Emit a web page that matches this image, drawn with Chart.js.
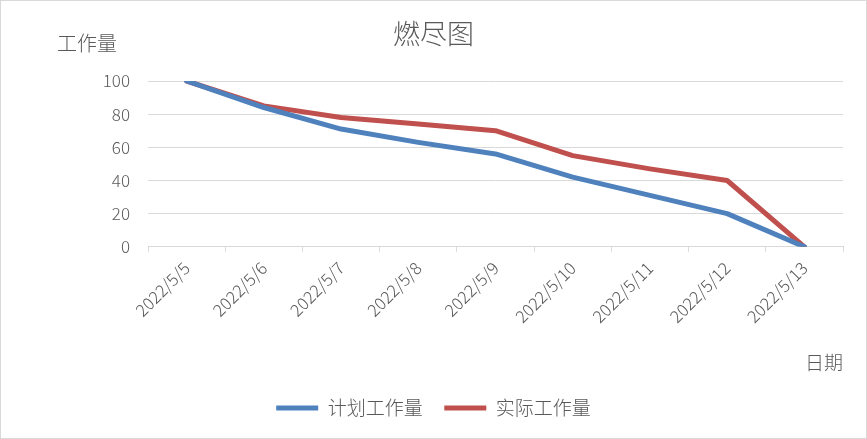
<!DOCTYPE html>
<html>
<head>
<meta charset="utf-8">
<script src="https://cdn.jsdelivr.net/npm/chart.js@4/dist/chart.umd.min.js"></script>
<style>
html,body{margin:0;padding:0;background:#fff;overflow:hidden;}
canvas{display:block;}
</style>
</head>
<body>
<canvas id="c" width="867" height="439"></canvas>
<script>
const categories = ['2022/5/5','2022/5/6','2022/5/7','2022/5/8','2022/5/9','2022/5/10','2022/5/11','2022/5/12','2022/5/13'];
const plannedWork = [100, 84, 71, 63, 56, 42, 31, 20, 0];
const actualWork  = [100, 85, 78, 74, 70, 55, 47, 40, 0];
const seriesNames = ['计划工作量', '实际工作量'];
const chartTitle = '燃尽图';
const yAxisTitle = '工作量';
const xAxisTitle = '日期';
const yTicks = [0, 20, 40, 60, 80, 100];

const FONT = "'Noto Sans CJK SC', 'Noto Sans', sans-serif";
const TEXT = '#595959';
const GRID = '#d9d9d9';

const frameAndLabels = {
  id: 'frameAndLabels',
  beforeDraw(chart) {
    const ctx = chart.ctx;
    ctx.save();
    ctx.fillStyle = '#fff';
    ctx.fillRect(0, 0, chart.width, chart.height);
    ctx.restore();
  },
  afterDraw(chart) {
    const ctx = chart.ctx;
    ctx.save();
    ctx.strokeStyle = GRID;
    ctx.lineWidth = 1;
    ctx.strokeRect(0.5, 0.5, chart.width - 1, chart.height - 1);
    ctx.fillStyle = TEXT;
    ctx.font = "300 20px " + FONT;
    ctx.textAlign = 'left';
    ctx.textBaseline = 'middle';
    ctx.fillText(yAxisTitle, 57, 43);
    ctx.restore();
  }
};

new Chart(document.getElementById('c'), {
  type: 'line',
  data: {
    labels: categories,
    datasets: [
      {
        label: seriesNames[0],
        data: plannedWork,
        borderColor: '#4F81BD',
        backgroundColor: '#4F81BD',
        borderWidth: 5,
        borderCapStyle: 'round',
        borderJoinStyle: 'round',
        pointRadius: 0,
        tension: 0
      },
      {
        label: seriesNames[1],
        data: actualWork,
        borderColor: '#C0504D',
        backgroundColor: '#C0504D',
        borderWidth: 5,
        borderCapStyle: 'round',
        borderJoinStyle: 'round',
        pointRadius: 0,
        tension: 0
      }
    ]
  },
  options: {
    responsive: false,
    animation: false,
    layout: { padding: { left: 0, right: 0, top: 0, bottom: 11.6 } },
    plugins: {
      title: {
        display: true,
        text: chartTitle,
        color: TEXT,
        font: { family: FONT, size: 27, weight: '300' },
        padding: { top: 17.8, bottom: 30.8 }
      },
      legend: {
        display: true,
        position: 'bottom',
        labels: {
          color: TEXT,
          font: { family: FONT, size: 19, weight: '300' },
          usePointStyle: true,
          pointStyle: 'line',
          pointStyleWidth: 42,
          padding: 21.6
        }
      },
      tooltip: { enabled: false }
    },
    scales: {
      x: {
        offset: true,
        grid: {
          offset: true,
          drawOnChartArea: false,
          drawTicks: true,
          tickLength: 5,
          color: GRID
        },
        border: { display: true, color: GRID, width: 1 },
        ticks: {
          color: TEXT,
          font: { family: FONT, size: 17, weight: '300' },
          minRotation: 45,
          maxRotation: 45,
          padding: 6,
          autoSkip: false
        },
        title: {
          display: true,
          text: xAxisTitle,
          align: 'end',
          color: TEXT,
          font: { family: FONT, size: 19, weight: '300' },
          padding: { top: 0, bottom: 2.6 }
        },
        afterFit(scale) {
          scale.height = 130;
          scale.paddingRight = 24;
          scale.paddingLeft = 0;
        }
      },
      y: {
        min: 0,
        max: 100,
        afterBuildTicks(scale) {
          scale.ticks = yTicks.map(v => ({ value: v }));
        },
        grid: { color: GRID, lineWidth: 1, drawTicks: false },
        border: { display: false },
        ticks: {
          color: TEXT,
          font: { family: FONT, size: 17, weight: '300' },
          padding: 18
        },
        afterFit(scale) {
          scale.width = 148;
        }
      }
    }
  },
  plugins: [frameAndLabels]
});
</script>
</body>
</html>
